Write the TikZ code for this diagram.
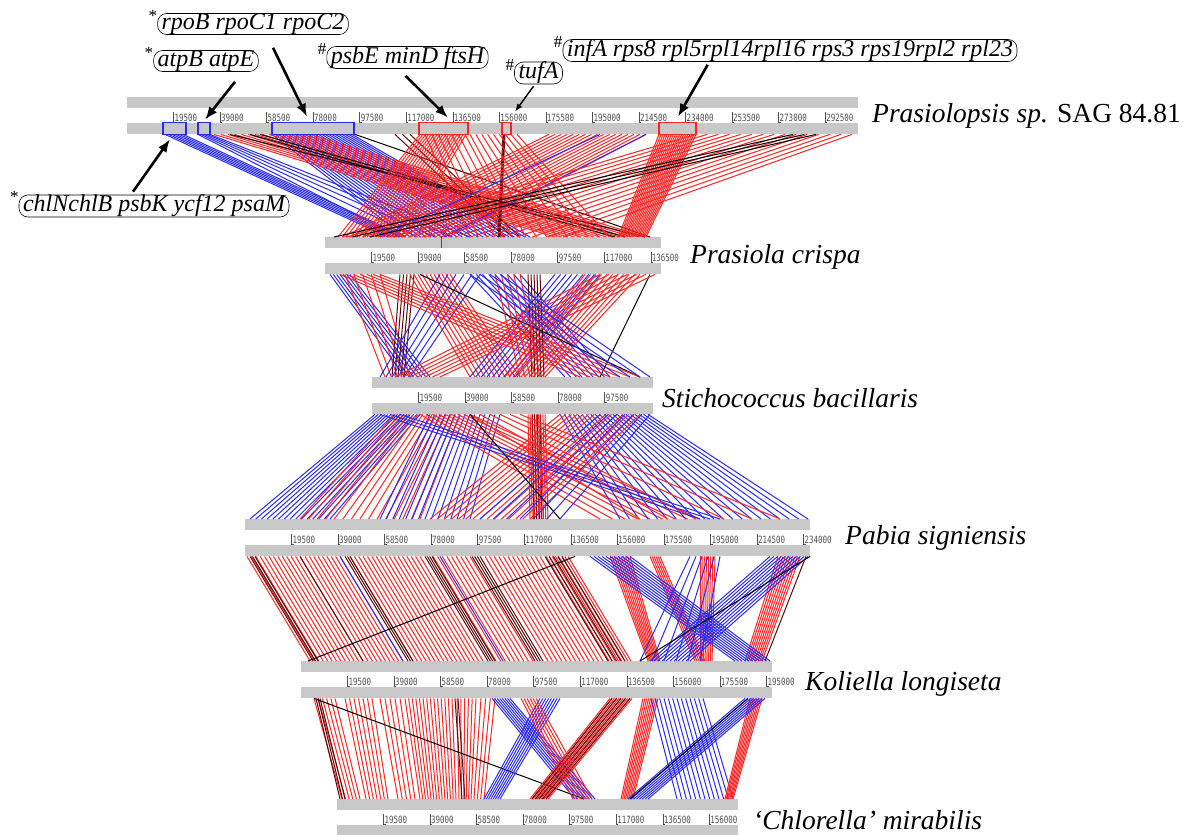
\documentclass[tikz,border=0pt]{standalone}
\usepackage{fontspec}
\setmainfont{Liberation Serif}
\newfontfamily\tickfont[FakeStretch=0.75]{DejaVu Sans Mono}
\usetikzlibrary{arrows.meta,positioning,calc}
\definecolor{bargray}{HTML}{C8C8C8}
\definecolor{synred}{HTML}{FF2424}
\definecolor{synblue}{HTML}{2A2AF5}
\definecolor{syndark}{HTML}{5A0A0A}
\definecolor{tickgray}{HTML}{505050}

% one genome: two grey bars with the position scale between them
\newcommand{\genomebar}[5]{%
  \node[gbar,minimum width=#4pt] (#1t) at (#2,#3) {};
  \node[gbar,minimum width=#4pt] (#1b) at (#2,#3+26) {};
  \foreach \k in {1,...,#5} {
    \pgfmathsetmacro\tx{#2+46.55*\k}
    \draw[tickgray,line width=0.6pt] (\tx,#3+15) |- (\tx+2,#3+25);
    \node[ticklbl] (#1k\k) at (\tx+0.8,#3+20.5) {\the\numexpr19500*\k\relax};
  }
}
% bundles of matches between two genomes
\newcommand{\synlinks}[3]{%
  \foreach \xa/\xb/\xc/\xd/\n/\col in {#3} {
    \foreach \i in {0,...,\n} {
      \pgfmathsetmacro\ux{\xa+\i/max(\n,1)*(\xb-\xa)}
      \pgfmathsetmacro\lx{\xc+\i/max(\n,1)*(\xd-\xc)}
      \draw[syn,color=\col] (\ux,0 |- #1.south) -- (\lx,0 |- #2.north);
    }
  }
}

\begin{document}
\begin{tikzpicture}[
  x=1pt,y=-1pt,
  gbar/.style={fill=bargray,draw=none,inner sep=0pt,minimum height=11pt,anchor=north west},
  ticklbl/.style={anchor=west,inner sep=0pt,text=tickgray,font=\tickfont\fontsize{10}{10}\selectfont},
  syn/.style={line width=1pt},
  genebox/.style={line width=1.6pt,inner sep=0pt,minimum height=12pt},
  genelbl/.style={draw,line width=0.6pt,rounded corners=9pt,inner xsep=4pt,inner ysep=0pt,
                  minimum height=21pt,font=\itshape\fontsize{24}{24}\selectfont},
  flag/.style={font=\fontsize{17}{17}\selectfont,inner sep=0pt,anchor=north east,yshift=3pt},
  species/.style={anchor=west,inner sep=0pt,font=\fontsize{27.5}{28}\selectfont},
  arr/.style={-{Latex[length=13pt,width=10pt]},line width=2.6pt},
  thinarr/.style={-{Latex[length=8pt,width=6pt]},line width=1.4pt}
]
\useasboundingbox (0,0) rectangle (1194,835);

% genomes
\genomebar{p1}{127}{97}{731}{15}
\genomebar{p2}{325}{237}{336}{7}
\genomebar{p3}{372}{377}{281}{5}
\genomebar{p4}{245}{519}{565}{12}
\genomebar{p5}{301}{661}{471}{10}
\genomebar{p6}{337}{799}{401}{8}

\node[species] (lab1) at (872,116) {\textit{Prasiolopsis sp.} SAG 84.81};
\node[species] (lab2) at (690,257) {\textit{Prasiola crispa}};
\node[species] (lab3) at (662,398) {\textit{Stichococcus bacillaris}};
\node[species] (lab4) at (845,538) {\textit{Pabia signiensis}};
\node[species] (lab5) at (805,684) {\textit{Koliella longiseta}};
\node[species] (lab6) at (753,820) {\textit{`Chlorella' mirabilis}};

% matches
\synlinks{p1b}{p2t}{165/183/388/406/5/synblue, 198/210/400/470/4/synblue,
  272/352/405/530/24/synblue, 214/310/555/645/14/synred, 230/230/645/645/0/black,
  250/260/615/625/1/black, 355/355/650/650/0/black, 395/410/505/520/2/syndark,
  420/466/338/405/16/synred, 425/465/470/520/6/synred, 503/505/498/500/3/syndark,
  470/517/526/609/8/synred, 549/646/343/448/16/synred, 600/600/380/380/0/synblue,
  646/646/444/444/0/synblue, 659/696/618/646/18/synred, 696/852/347/563/14/synred,
  793/816/334/370/2/black}
\synlinks{p2b}{p3t}{330/350/405/430/6/synblue, 345/380/385/410/4/synred,
  400/414/392/404/4/syndark, 410/450/470/520/10/synred, 440/480/380/410/5/synblue,
  470/520/565/610/8/synblue, 555/600/470/515/8/synblue, 585/640/505/545/10/synred,
  528/540/532/544/4/syndark, 650/650/600/600/0/black, 420/420/640/640/0/black,
  340/380/580/640/6/synred, 600/655/395/440/6/synred, 495/520/520/540/4/synred,
  470/500/620/650/3/synblue}
\synlinks{p3b}{p4t}{375/420/250/330/14/synblue, 395/460/300/420/14/synred,
  430/500/380/470/14/synblue, 528/545/530/548/8/synred, 532/540/534/542/3/syndark,
  420/470/600/700/8/synred, 560/648/620/808/20/synblue, 560/640/430/530/14/synred,
  600/650/480/560/6/synblue, 470/520/640/780/5/synred, 470/470/560/560/0/black,
  380/400/700/720/2/synblue}
\synlinks{p4b}{p5t}{247/300/310/363/12/synred, 305/340/368/403/8/synred,
  350/420/413/483/16/synred, 433/470/496/533/8/synred, 485/540/548/603/12/synred,
  546/568/609/631/7/synred, 250/255/313/318/2/syndark,
  300/300/363/363/0/syndark, 345/350/408/413/2/syndark, 425/432/488/495/3/syndark,
  472/480/535/543/3/syndark, 545/562/608/625/4/syndark, 340/340/403/403/0/synblue,
  440/440/503/503/0/synblue, 575/575/308/308/0/black, 610/630/648/660/9/synred,
  650/660/695/705/5/synred, 700/715/700/712/7/synred, 778/800/745/762/9/synred,
  590/630/735/770/10/synblue, 770/808/650/690/10/synblue, 690/720/640/700/5/synblue,
  810/810/640/640/0/black, 806/806/765/765/0/syndark}
\synlinks{p5b}{p6t}{314/335/342/360/5/synred, 345/372/366/388/6/synred,
  380/400/398/415/4/synred, 405/452/420/456/13/synred, 457/476/459/471/5/synred,
  481/495/474/484/3/synred, 316/320/340/345/2/syndark,
  455/458/462/465/1/syndark, 314/314/584/584/0/black, 492/510/575/595/7/synblue,
  540/560/484/500/7/synblue, 610/632/530/548/10/synred, 612/630/532/546/4/syndark,
  521/536/573/592/5/synred, 643/658/621/633/8/synred, 651/703/677/733/12/synblue,
  750/762/725/733/7/synred, 745/765/628/648/7/synblue, 748/748/630/630/0/black}

\draw[line width=1pt,color={rgb,255:red,85;green,85;blue,51}] (441,0 |- p2t.north) -- (441,0 |- p2t.south);

% gene clusters on the first genome
\node[genebox,draw=synblue,minimum width=23pt] (bx1) at (174.5,128.5) {};
\node[genebox,draw=synblue,minimum width=12pt] (bx2) at (204,128.5) {};
\node[genebox,draw=synblue,minimum width=82pt] (bx3) at (313,128.5) {};
\node[genebox,draw=synred,minimum width=49pt] (bx4) at (443.5,128.5) {};
\node[genebox,draw=synred,minimum width=9pt] (bx5) at (506.5,128.5) {};
\node[genebox,draw=synred,minimum width=37pt] (bx6) at (677.5,128.5) {};

\node[genelbl,label={[flag]north west:*}] (lrpo) at (253,24) {rpoB rpoC1 rpoC2};
\node[genelbl,label={[flag]north west:*}] (latp) at (206,61) {atpB atpE};
\node[genelbl,label={[flag]north west:\#}] (lpsb) at (407.5,57.5) {psbE minD ftsH};
\node[genelbl,label={[flag]north west:\#}] (ltuf) at (538.5,73) {tufA};
\node[genelbl,label={[flag]north west:\#}] (linf) at (790,50.5) {infA rps8 rpl5rpl14rpl16 rps3 rps19rpl2 rpl23};
\node[genelbl,label={[flag]north west:*}] (lchl) at (154,206) {chlNchlB psbK ycf12 psaM};

\draw[arr] ([shift={(20pt,-13pt)}]lrpo.south) -- ([shift={(-6pt,5pt)}]bx3.north);
\draw[arr] ([shift={(29pt,-10pt)}]latp.south) -- ([shift={(1pt,2pt)}]bx2.north);
\draw[arr] ([shift={(-2pt,-7pt)}]lpsb.south) -- ([shift={(4.5pt,4pt)}]bx4.north);
\draw[thinarr] ([shift={(-5pt,-2pt)}]ltuf.south) -- ([shift={(8.5pt,10pt)}]bx5.north);
\draw[arr] ([shift={(145pt,-3pt)}]linf.south west) -- ([shift={(0.5pt,5pt)}]bx6.north);
\draw[arr] ([shift={(-21pt,3pt)}]lchl.north) -- ([shift={(-4.5pt,-4pt)}]bx1.south);
\end{tikzpicture}
\end{document}
